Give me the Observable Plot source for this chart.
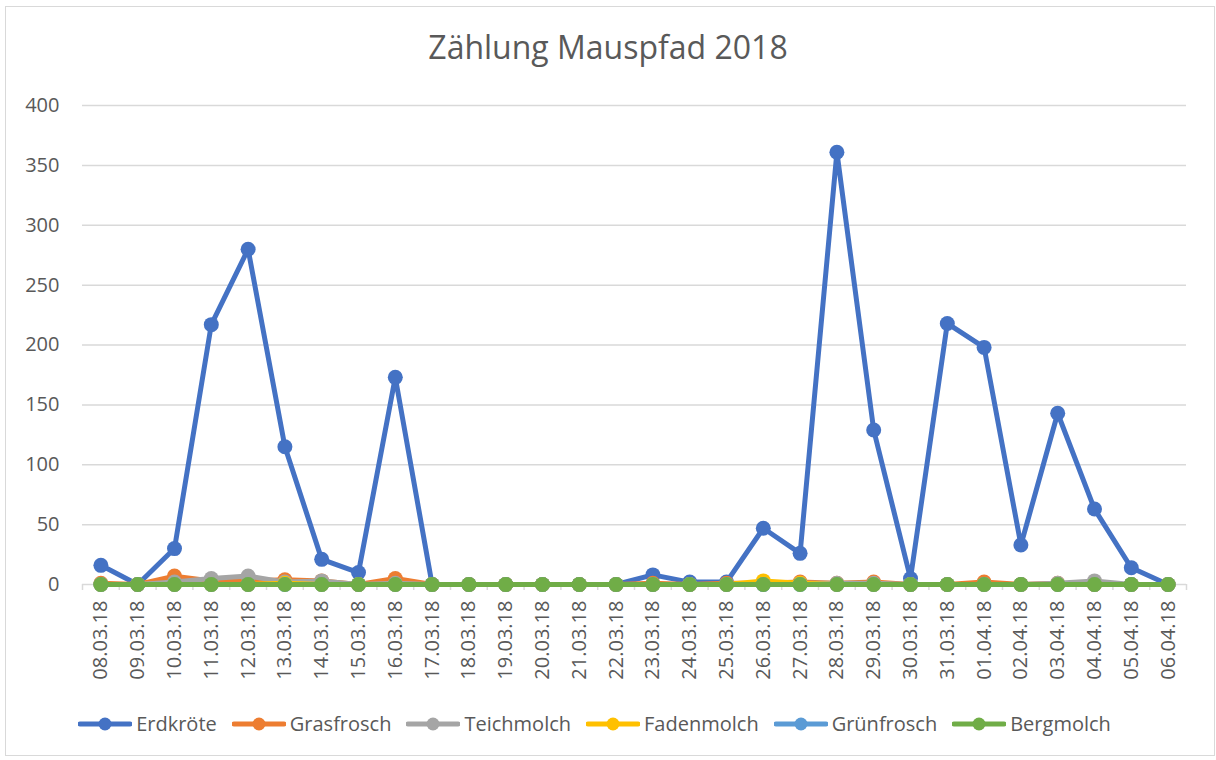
<!DOCTYPE html>
<html><head><meta charset="utf-8">
<script src="https://cdn.jsdelivr.net/npm/d3@7"></script>
<script src="https://cdn.jsdelivr.net/npm/@observablehq/plot@0.6"></script>
<style>
body{margin:0;background:#fff;font-family:"Open Sans",sans-serif;}
#frame{position:absolute;left:5px;top:6px;width:1208px;height:748px;border:1px solid #d9d9d9;box-sizing:content-box;}
#title{position:absolute;left:0;top:25px;width:1216px;text-align:center;font-size:32px;color:#595959;}
#chart{position:absolute;left:0;top:80px;}
#legend{position:absolute;left:0;top:711px;width:1189px;display:flex;justify-content:center;gap:15px;font-size:20px;color:#595959;line-height:26px;}
.item{display:flex;align-items:center;gap:4px;}
</style>
</head><body>
<div id="frame"></div>
<div id="title">Zählung Mauspfad 2018</div>
<div id="chart"></div>
<div id="legend"></div>
<script>
const dates = ["08.03.18","09.03.18","10.03.18","11.03.18","12.03.18","13.03.18","14.03.18","15.03.18","16.03.18","17.03.18","18.03.18","19.03.18","20.03.18","21.03.18","22.03.18","23.03.18","24.03.18","25.03.18","26.03.18","27.03.18","28.03.18","29.03.18","30.03.18","31.03.18","01.04.18","02.04.18","03.04.18","04.04.18","05.04.18","06.04.18"];
const erdkroete   = [16,0,30,217,280,115,21,10,173,0,0,0,0,0,0,8,2,2,47,26,361,129,5,218,198,33,143,63,14,0];
const grasfrosch  = [1,0,7,3,3,4,3,0,5,0,0,0,0,0,0,1,0,1,1,2,1,2,0,0,2,0,1,0,0,0];
const teichmolch  = [0,0,2,5,7,2,3,0,1,0,0,0,0,0,0,0,0,0,0,1,1,1,0,0,0,0,1,3,0,0];
const fadenmolch  = [0,0,0,0,0,1,0,0,0,0,0,0,0,0,0,0,0,0,3,1,0,0,0,0,0,0,0,0,0,0];
const gruenfrosch = [0,0,0,0,0,0,0,0,0,0,0,0,0,0,0,0,0,0,0,0,0,0,0,0,0,0,0,0,0,0];
const bergmolch   = [0,0,0,0,0,0,0,0,0,0,0,0,0,0,0,0,0,0,0,0,0,0,0,0,0,0,0,0,0,0];
const seriesNames = ["Erdkröte","Grasfrosch","Teichmolch","Fadenmolch","Grünfrosch","Bergmolch"];
const seriesValues = [erdkroete, grasfrosch, teichmolch, fadenmolch, gruenfrosch, bergmolch];
const yTicks = [0,50,100,150,200,250,300,350,400];

const colors = ["#4472C4","#ED7D31","#A5A5A5","#FFC000","#5B9BD5","#70AD47"];
const textColor = "#595959";
const W = 1216, H = 620, ML = 82, MR = 30, MT = 25, MB = 116;
const step = (W - ML - MR) / dates.length;

const rows = seriesNames.flatMap((s, i) => dates.map((d, j) => ({series: s, date: d, value: seriesValues[i][j]})));

const seriesMarks = seriesNames.flatMap(s => {
  const data = rows.filter(r => r.series === s);
  return [
    Plot.line(data, {x: "date", y: "value", stroke: "series", strokeWidth: 5, strokeLinejoin: "round", strokeLinecap: "round"}),
    Plot.dot(data, {x: "date", y: "value", fill: "series", r: 7.5, stroke: "none"})
  ];
});

const chart = Plot.plot({
  width: W, height: H,
  marginLeft: ML, marginRight: MR, marginTop: MT, marginBottom: MB,
  style: {fontFamily: "Open Sans, sans-serif", background: "transparent", overflow: "visible"},
  x: {type: "point", domain: dates, padding: 0.5, round: false},
  y: {domain: [0, 400]},
  color: {domain: seriesNames, range: colors},
  marks: [
    Plot.gridY(yTicks, {stroke: "#d9d9d9", strokeOpacity: 1, strokeWidth: 1.5}),
    Plot.axisY(yTicks, {tickSize: 0, tickPadding: 23, fontSize: 20, fill: textColor, label: null}),
    Plot.axisX(dates, {tickSize: 6, text: null, dx: -step / 2, stroke: "#d9d9d9", strokeWidth: 1.5, label: null}),
    Plot.axisX([dates[dates.length - 1]], {tickSize: 6, text: null, dx: step / 2, stroke: "#d9d9d9", strokeWidth: 1.5, label: null}),
    Plot.axisX(dates, {tickSize: 0, tickPadding: 16, tickRotate: -90, fontSize: 20, fill: textColor, label: null}),
    ...seriesMarks
  ]
});
document.getElementById("chart").appendChild(chart);

const legend = document.getElementById("legend");
seriesNames.forEach((s, i) => {
  const item = document.createElement("div");
  item.className = "item";
  item.innerHTML = `<svg width="54" height="16"><line x1="2" y1="8" x2="52" y2="8" stroke="${colors[i]}" stroke-width="5" stroke-linecap="round"/><circle cx="27" cy="8" r="6.5" fill="${colors[i]}"/></svg><span>${s}</span>`;
  legend.appendChild(item);
});
</script>
</body></html>
